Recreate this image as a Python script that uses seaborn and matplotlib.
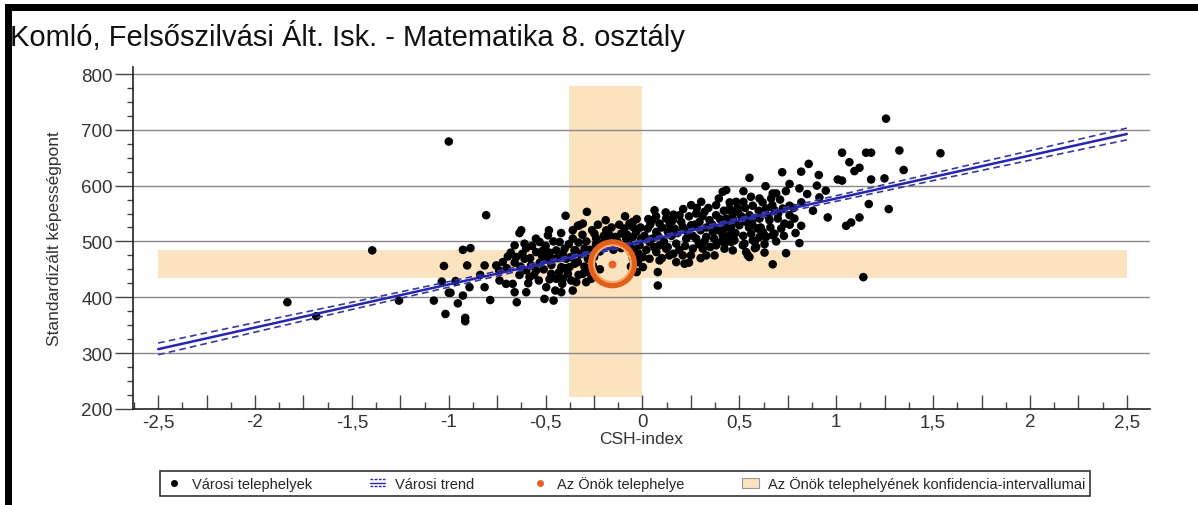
import numpy as np
import pandas as pd
import seaborn as sns
import matplotlib.pyplot as plt
from matplotlib.lines import Line2D
from matplotlib.patches import Rectangle, Patch
from matplotlib.legend_handler import HandlerBase
from matplotlib.ticker import MultipleLocator, FuncFormatter

# Városi telephelyek (CSH-index, standardizált képességpont)
points = [
    (-1.833, 391), (-1.684, 366), (-1.395, 484), (-1.257, 394), (-1.0, 679),
    (-1.025, 456), (-1.036, 428), (-1.077, 394), (-1.017, 370), (-1.0, 408),
    (-0.807, 547), (-0.397, 546), (-0.334, 528),
    (-0.927, 485), (-0.888, 488), (-0.905, 457), (-0.815, 457), (-0.965, 429),
    (-0.893, 418), (-0.991, 408), (-0.953, 389), (-0.927, 403), (-0.915, 363),
    (-0.915, 357), (-0.786, 395), (-0.838, 440), (-0.815, 418), (-0.755, 457),
    (-0.721, 463), (-0.695, 473), (-0.738, 430), (-0.704, 424), (-0.670, 424),
    (-0.660, 409), (-0.600, 409), (-0.649, 391), (-0.660, 493), (-0.635, 515),
    (-0.626, 520), (-0.609, 496), (-0.652, 472), (-0.609, 469), (-0.575, 457),
    (-0.549, 481), (-0.531, 499), (-0.483, 520), (-0.488, 511), (-0.514, 484),
    (-0.497, 469), (-0.535, 430), (-0.497, 418), (-0.506, 397), (-0.459, 394),
    (-0.445, 433), (-0.419, 409), (-0.414, 424), (-0.428, 499), (-0.445, 484),
    (-0.402, 487), (-0.394, 469), (-0.419, 454), (-0.385, 442), (-0.360, 505),
    (-0.346, 484), (-0.360, 412), (-0.342, 427), (-0.583, 436), (-0.600, 448),
    (-0.635, 440), (-0.549, 448), (-0.471, 442), (-0.462, 469),
    (-0.74, 448), (-0.70, 452), (-0.68, 480), (-0.66, 462), (-0.63, 455),
    (-0.62, 478), (-0.60, 488), (-0.58, 470), (-0.57, 492), (-0.55, 505),
    (-0.53, 462), (-0.52, 475), (-0.51, 450), (-0.50, 492), (-0.48, 480),
    (-0.47, 458), (-0.46, 500), (-0.44, 470), (-0.43, 445), (-0.42, 515),
    (-0.41, 478), (-0.40, 452), (-0.56, 440), (-0.59, 425), (-0.48, 432),
    (-0.45, 412),
    (-0.287, 553), (-0.325, 529), (-0.308, 532), (-0.248, 514), (-0.187, 520),
    (-0.196, 502), (-0.239, 505), (-0.351, 484), (-0.299, 487), (-0.334, 463),
    (-0.377, 454), (-0.411, 433), (-0.368, 430), (-0.308, 442), (-0.291, 427),
    (-0.265, 433), (-0.256, 457), (-0.282, 469), (-0.110, 514), (-0.067, 532),
    (-0.050, 526), (-0.093, 523), (-0.033, 517), (-0.007, 505), (-0.015, 493),
    (-0.084, 505), (-0.041, 490), (0.002, 472), (0.002, 454), (-0.024, 463),
    (-0.170, 511), (-0.130, 500), (-0.100, 492), (-0.060, 480), (-0.210, 495),
    (-0.150, 485), (-0.050, 470), (-0.050, 535),
    (-0.38, 495), (-0.37, 472), (-0.36, 520), (-0.35, 460), (-0.33, 498),
    (-0.32, 477), (-0.31, 512), (-0.30, 455), (-0.29, 500), (-0.27, 485),
    (-0.26, 520), (-0.25, 472), (-0.24, 495), (-0.23, 530), (-0.22, 482),
    (-0.20, 510), (-0.19, 538), (-0.18, 498), (-0.16, 525), (-0.14, 508),
    (-0.12, 530), (-0.11, 488), (-0.09, 545), (-0.08, 512), (-0.07, 495),
    (-0.05, 508), (-0.03, 540), (-0.02, 478), (-0.01, 525), (-0.28, 445),
    (-0.33, 440), (-0.22, 450), (-0.06, 455), (-0.03, 445),
    (0.062, 556), (0.050, 538), (0.088, 532), (0.122, 541), (0.157, 538),
    (0.191, 547), (0.251, 565), (0.303, 571), (0.277, 550), (0.320, 553),
    (0.394, 577), (0.414, 589), (0.432, 592), (0.483, 571), (0.449, 556),
    (0.027, 523), (0.071, 517), (0.036, 499), (0.088, 493), (0.131, 517),
    (0.165, 523), (0.208, 526), (0.251, 529), (0.294, 535), (0.346, 538),
    (0.380, 547), (0.432, 541), (0.466, 550), (0.458, 526), (0.414, 520),
    (0.363, 517), (0.329, 508), (0.277, 505), (0.226, 505), (0.174, 496),
    (0.122, 487), (0.071, 481), (0.036, 469), (0.088, 466), (0.139, 475),
    (0.174, 463), (0.217, 460), (0.208, 475), (0.260, 487), (0.311, 487),
    (0.329, 475), (0.372, 475), (0.380, 493), (0.432, 499), (0.475, 502),
    (0.449, 511), (0.079, 445), (0.079, 421),
    (0.01, 510), (0.02, 485), (0.03, 540), (0.04, 530), (0.05, 505),
    (0.06, 490), (0.07, 545), (0.08, 510), (0.10, 525), (0.11, 500),
    (0.12, 552), (0.13, 490), (0.14, 530), (0.15, 510), (0.16, 548),
    (0.18, 515), (0.19, 485), (0.20, 535), (0.21, 558), (0.22, 492),
    (0.23, 518), (0.24, 545), (0.25, 475), (0.26, 510), (0.27, 530),
    (0.28, 560), (0.29, 495), (0.30, 520), (0.31, 545), (0.32, 500),
    (0.33, 525), (0.34, 560), (0.35, 490), (0.36, 530), (0.37, 505),
    (0.38, 565), (0.39, 520), (0.40, 540), (0.41, 500), (0.42, 555),
    (0.44, 525), (0.45, 570), (0.47, 535), (0.48, 515), (0.49, 560),
    (0.10, 470), (0.16, 478), (0.24, 462), (0.30, 470),
    (1.257, 720), (1.030, 659), (1.154, 659), (1.180, 659), (1.326, 663),
    (1.068, 642), (0.858, 639), (1.120, 632), (1.094, 626), (1.348, 628),
    (0.819, 625), (0.910, 619), (0.721, 624), (0.552, 614), (1.008, 611),
    (1.030, 609), (1.180, 611), (1.249, 613), (0.759, 603), (0.635, 599),
    (0.810, 595), (0.946, 591), (0.913, 579), (0.672, 586), (0.521, 590),
    (1.168, 567), (1.271, 558), (0.956, 543), (1.051, 528), (1.077, 534),
    (1.120, 543), (0.819, 528), (0.810, 497), (0.741, 479), (0.672, 459),
    (1.140, 436), (1.538, 658),
    (0.521, 571), (0.604, 577), (0.664, 577), (0.690, 586), (0.759, 564),
    (0.724, 559), (0.681, 556), (0.638, 559), (0.569, 564), (0.552, 547),
    (0.492, 553), (0.449, 559), (0.604, 541), (0.655, 538), (0.698, 541),
    (0.759, 547), (0.784, 541), (0.733, 532), (0.716, 523), (0.681, 514),
    (0.621, 517), (0.569, 529), (0.535, 535), (0.500, 529), (0.466, 541),
    (0.432, 535), (0.561, 514), (0.604, 508), (0.569, 502), (0.638, 508),
    (0.672, 511), (0.466, 514), (0.458, 499), (0.518, 493), (0.535, 481),
    (0.544, 475), (0.526, 496), (0.587, 490), (0.630, 511), (0.595, 523),
    (0.552, 472), (0.414, 511), (0.423, 487), (0.466, 484),
    (0.51, 545), (0.52, 510), (0.53, 560), (0.55, 525), (0.56, 580),
    (0.57, 540), (0.58, 500), (0.60, 555), (0.61, 525), (0.62, 570),
    (0.63, 495), (0.65, 545), (0.66, 525), (0.67, 565), (0.69, 500),
    (0.70, 550), (0.71, 575), (0.73, 510), (0.74, 590), (0.76, 530),
    (0.78, 560), (0.79, 515), (0.82, 570), (0.85, 585), (0.88, 555),
    (0.90, 600), (0.63, 480), (0.58, 488),
]

# Városi trend és konfidencia-sávja
trend_x = [-2.5, -1.5, -0.5, 0.0, 0.5, 1.5, 2.5]
trend_y = [307, 384.5, 461.5, 500, 538.5, 615.5, 692.5]
trend_hi = [318, 391, 465, 503, 542, 622, 703]
trend_lo = [297, 378, 458, 497, 535, 609, 682]

# Az Önök telephelye és konfidencia-intervallumai
school_x, school_y = -0.155, 460
ci_x = (-0.377, 0.0)
ci_y = (435, 484)
band_x_span = (-2.5, 2.5)
band_y_span = (222, 778)

df = pd.DataFrame(points, columns=["csh", "pont"])

sns.set_theme(style="white")
plt.rcParams['font.family'] = ['Liberation Sans', 'DejaVu Sans']

fig = plt.figure(figsize=(11.98, 5.06), dpi=100)
ax = fig.add_axes([0.111, 0.19, 0.849, 0.675])

peach = "#FBE3BF"
ax.add_patch(Rectangle((band_x_span[0], ci_y[0]), band_x_span[1] - band_x_span[0],
                       ci_y[1] - ci_y[0], facecolor=peach, edgecolor="none", zorder=0))
ax.add_patch(Rectangle((ci_x[0], band_y_span[0]), ci_x[1] - ci_x[0],
                       band_y_span[1] - band_y_span[0], facecolor=peach, edgecolor="none", zorder=0))

for v in range(300, 801, 100):
    ax.axhline(v, color="#888888", lw=1.0, zorder=1)

sns.scatterplot(data=df, x="csh", y="pont", color="black", s=38, edgecolor="none",
                ax=ax, zorder=3, legend=False)

trend_col = "#2626b0"
sns.lineplot(x=trend_x, y=trend_y, color=trend_col, lw=1.8, ax=ax, zorder=4)
sns.lineplot(x=trend_x, y=trend_hi, color="#3838a0", lw=1.2, ls=(0, (4, 2.5)), ax=ax, zorder=4)
sns.lineplot(x=trend_x, y=trend_lo, color="#3838a0", lw=1.2, ls=(0, (4, 2.5)), ax=ax, zorder=4)

# Az Önök telephelye: narancs gyűrű
ax.scatter([school_x], [school_y], s=950, facecolor="none", edgecolor="#E0601A", lw=4.5, zorder=5)
ax.scatter([school_x], [school_y], s=700, facecolor="none", edgecolor="#F5A868", lw=1.5, zorder=5)
ax.scatter([school_x], [school_y], s=22, color="#E8602C", zorder=6)

ax.set_xlim(-2.63, 2.62)
ax.set_ylim(200, 812)
ax.set_xlabel("CSH-index", fontsize=12.5, color="#333333", labelpad=1)
ax.set_ylabel("Standardizált képességpont", fontsize=12.5, color="#333333", labelpad=14)

ax.xaxis.set_major_locator(MultipleLocator(0.25))
ax.xaxis.set_minor_locator(MultipleLocator(0.125))
def fmt_x(v, pos):
    if abs(v / 0.5 - round(v / 0.5)) > 1e-6:
        return ""
    return "0" if abs(v) < 1e-9 else f"{v:g}".replace(".", ",")
ax.xaxis.set_major_formatter(FuncFormatter(fmt_x))
ax.yaxis.set_major_locator(MultipleLocator(100))
ax.yaxis.set_minor_locator(MultipleLocator(25))
ax.tick_params(axis="x", which="major", direction="in", length=10, width=1, color="#444444",
               labelsize=13.5, labelcolor="#333333", pad=3, bottom=True)
ax.tick_params(axis="x", which="minor", direction="in", length=5, width=1, color="#444444", bottom=True)
ax.tick_params(axis="y", which="major", direction="out", length=13, width=1, color="#444444",
               labelsize=13.5, labelcolor="#333333", pad=1.5, left=True)
ax.tick_params(axis="y", which="minor", direction="out", length=4, width=1, color="#444444", left=True)

for side in ["top", "right"]:
    ax.spines[side].set_visible(False)
for side in ["left", "bottom"]:
    ax.spines[side].set_color("#222222")
    ax.spines[side].set_linewidth(1.2)


class TripleLineHandler(HandlerBase):
    def create_artists(self, legend, orig_handle, xdescent, ydescent, width, height, fontsize, trans):
        arts = []
        for frac, ls in [(0.15, (0, (2, 1))), (0.5, "-"), (0.85, (0, (2, 1)))]:
            y = -ydescent + height * frac
            arts.append(Line2D([-xdescent + width * 0.1, -xdescent + width * 0.95], [y, y],
                               color=trend_col, lw=1, ls=ls, transform=trans))
        return arts


trend_handle = Line2D([], [], color=trend_col)
handles = [
    Line2D([], [], marker="o", color="black", ls="none", ms=4),
    trend_handle,
    Line2D([], [], marker="o", color="#E8602C", ls="none", ms=4),
    Patch(facecolor=peach, edgecolor="#999999", lw=0.8),
]
labels = ["Városi telephelyek", "Városi trend", "Az Önök telephelye",
          "Az Önök telephelyének konfidencia-intervallumai"]
leg = fig.legend(handles, labels, loc="center", bbox_to_anchor=(0.522, 0.0425), ncol=4,
                 fontsize=10.5, frameon=True, fancybox=False, edgecolor="black",
                 columnspacing=3.9, handletextpad=0.6, handlelength=1.2, borderpad=0.35,
                 handler_map={trend_handle: TripleLineHandler()})
leg.get_frame().set_linewidth(1.2)

fig.text(10 / 1198, 1 - 36 / 506, "Komló, Felsőszilvási Ált. Isk. - Matematika 8. osztály",
         fontsize=21, va="center", ha="left", color="#111111")

# fekete keret a kép szélén
fig.add_artist(Rectangle((5 / 1198, 1 - 12 / 506), 1, 7 / 506, transform=fig.transFigure,
                         facecolor="black", edgecolor="none"))
fig.add_artist(Rectangle((5 / 1198, 0), 7 / 1198, 1 - 5 / 506, transform=fig.transFigure,
                         facecolor="black", edgecolor="none"))

fig.savefig("out.png", dpi=100)
